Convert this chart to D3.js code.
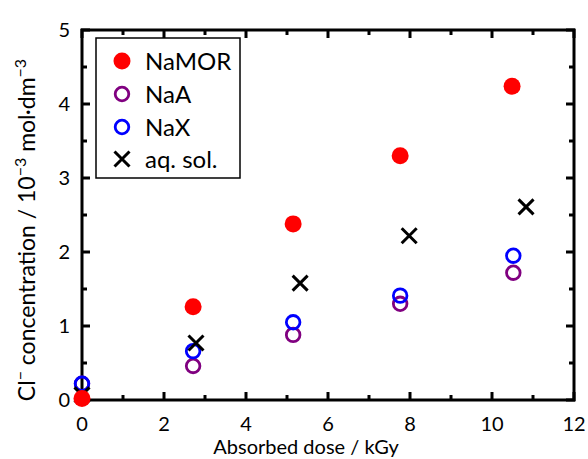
<!DOCTYPE html>
<html><head><meta charset="utf-8">
<script src="https://cdn.jsdelivr.net/npm/d3@7"></script>
<style>body{margin:0;background:#fff}svg{display:block}text{font-family:Lato,"Open Sans",sans-serif;fill:#000}</style>
</head><body><svg id="c" width="588" height="459"></svg>
<script>
const xTicks = [0,2,4,6,8,10,12];
const yTicks = [0,1,2,3,4,5];
const doseMOR = [0, 2.71, 5.15, 7.76, 10.49];
const valMOR  = [0.02, 1.26, 2.38, 3.30, 4.24];
const doseA   = [0, 2.71, 5.15, 7.76, 10.52];
const valA    = [0.22, 0.46, 0.88, 1.30, 1.72];
const doseX   = [0, 2.71, 5.15, 7.76, 10.52];
const valX    = [0.22, 0.66, 1.05, 1.41, 1.95];
const doseAq  = [0, 2.78, 5.32, 7.98, 10.83];
const valAq   = [0.07, 0.77, 1.58, 2.22, 2.61];
const legendNames = ["NaMOR","NaA","NaX","aq. sol."];

const svg = d3.select("#c");
const L=82, R=574, T=30, B=400;
const x = d3.scaleLinear().domain([0,12]).range([L,R]);
const y = d3.scaleLinear().domain([0,5]).range([B,T]);

const xMinor = d3.range(1,12,2);
const yMinor = d3.range(0.5,5,1);
const g = svg.append("g");
function tk(x1,y1,x2,y2){g.append("line").attr("x1",x1).attr("y1",y1).attr("x2",x2).attr("y2",y2).attr("stroke","#000").attr("stroke-width",3);}
xTicks.forEach(v=>{tk(x(v),B+1,x(v),B-8);tk(x(v),T-1,x(v),T+8);});
xMinor.forEach(v=>{tk(x(v),B,x(v),B-5);tk(x(v),T,x(v),T+5);});
yTicks.forEach(v=>{tk(L-1,y(v),L+8,y(v));tk(R+1,y(v),R-8,y(v));});
yMinor.forEach(v=>{tk(L,y(v),L+5,y(v));tk(R,y(v),R-5,y(v));});
g.append("rect").attr("x",L).attr("y",T).attr("width",R-L).attr("height",B-T).attr("fill","none").attr("stroke","#000").attr("stroke-width",3);

xTicks.forEach(v=>svg.append("text").attr("x",x(v)).attr("y",431).attr("text-anchor","middle").attr("font-size",20).text(v));
yTicks.forEach(v=>svg.append("text").attr("x",70).attr("y",y(v)+7).attr("text-anchor","end").attr("font-size",20).text(v));

svg.append("text").attr("x",306).attr("y",454).attr("text-anchor","middle").attr("font-size",20).text("Absorbed dose / kGy");
const yt = svg.append("text").attr("transform","translate(35,230) rotate(-90)").attr("text-anchor","middle").attr("font-size",23);
yt.append("tspan").text("Cl");
yt.append("tspan").attr("dy",-9).attr("font-size",16).text("−");
yt.append("tspan").attr("dy",9).text(" concentration / 10");
yt.append("tspan").attr("dy",-9).attr("font-size",16).text("−3");
yt.append("tspan").attr("dy",9).text(" mol·dm");
yt.append("tspan").attr("dy",-9).attr("font-size",16).text("−3");

const plot = svg.append("g");
function circles(xs,vs,color,fill){
  plot.selectAll(null).data(xs.map((d,i)=>[d,vs[i]])).enter().append("circle")
   .attr("cx",d=>x(d[0])).attr("cy",d=>y(d[1])).attr("r",fill?8.5:6.8)
   .attr("fill",fill?color:"none").attr("stroke",fill?"none":color).attr("stroke-width",fill?0:2.8);
}
function crosses(xs,vs){
  const s=7.5;
  plot.selectAll(null).data(xs.map((d,i)=>[d,vs[i]])).enter().append("path")
   .attr("d",d=>{const cx=x(d[0]),cy=y(d[1]);return `M${cx-s},${cy-s}L${cx+s},${cy+s}M${cx-s},${cy+s}L${cx+s},${cy-s}`;})
   .attr("stroke","#000").attr("stroke-width",3).attr("fill","none");
}
circles(doseA,valA,"#800080",false);
circles(doseX,valX,"#0000ff",false);
crosses(doseAq,valAq);
circles(doseMOR,valMOR,"#ff0000",true);

const lg = svg.append("g");
lg.append("rect").attr("x",96).attr("y",38).attr("width",144).attr("height",140).attr("fill","#fff").attr("stroke","#000").attr("stroke-width",1.5);
const ly=[61,94,127,159];
lg.append("circle").attr("cx",122).attr("cy",ly[0]).attr("r",8.5).attr("fill","#ff0000");
lg.append("circle").attr("cx",122).attr("cy",ly[1]).attr("r",6.8).attr("fill","none").attr("stroke","#800080").attr("stroke-width",2.8);
lg.append("circle").attr("cx",122).attr("cy",ly[2]).attr("r",6.8).attr("fill","none").attr("stroke","#0000ff").attr("stroke-width",2.8);
lg.append("path").attr("d",`M${122-7.5},${ly[3]-7.5}L${122+7.5},${ly[3]+7.5}M${122-7.5},${ly[3]+7.5}L${122+7.5},${ly[3]-7.5}`).attr("stroke","#000").attr("stroke-width",3);
legendNames.forEach((n,i)=>lg.append("text").attr("x",145).attr("y",ly[i]+9).attr("font-size",24).text(n));
</script></body></html>
